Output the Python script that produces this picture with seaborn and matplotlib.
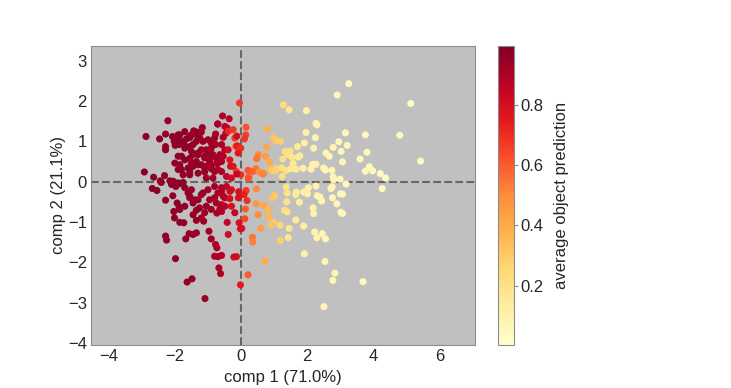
import numpy as np
import pandas as pd
import matplotlib
matplotlib.use("Agg")
import matplotlib.pyplot as plt
import seaborn as sns

# ---------------- data ----------------
red_x = [-2.2, -2.86, -2.45, -2.27, -2.27, -2.27, -2.06, -2.01, -1.92, -1.84, -1.98, -1.86, -1.77, -1.71,
         -1.64, -1.54, -1.49, -1.42, -1.32, -1.16, -1.19, -1.24, -1.34, -1.44, -1.54, -0.55, -0.69, -0.76,
         -0.53, -0.41, -0.45, -1.79, -1.69, -1.54, -1.44, -1.34, -1.29, -1.19, -1.09, -0.99, -0.89, -0.94,
         -0.84, -0.73, -1.04, -1.19, -1.44, -1.59, -1.84, -1.99, -1.89, -1.74, -1.54, -1.29, -1.09, -0.89,
         -0.69, -0.58, -0.63, -0.76, -2.91, -2.63, -2.30, -2.43, -2.14, -2.04,
         -2.67, -2.53, -2.40, -2.09, -1.96, -1.84, -1.74, -2.27, -2.05, -1.92, -1.86, -2.02, -2.0, -1.84,
         -1.72, -1.59, -1.54, -1.44, -1.29, -1.24, -1.34, -1.44, -1.09, -1.14, -0.99, -0.94, -0.79, -0.89,
         -0.63, -0.58, -0.53, -0.69, -1.34, -1.19, -1.12, -2.27, -2.24, -1.66, -1.56, -1.44, -1.34, -0.96,
         -0.89, -0.76, -0.72, -0.79, -0.69, -0.58, -0.66, -0.61, -1.97, -1.62, -1.47, -1.08, -0.58, -0.72,
         -0.58, -1.89, -1.69, -1.54, -1.39, -1.29, -1.14, -0.99, -0.89, -0.79, -1.04, -0.89, -0.74, -0.94,
         -1.09, -1.29, -1.49, -1.69, -1.84, -1.89, -1.49, -1.29, -1.09, -0.89, -0.69, -0.53, -0.48, -0.58,
         -0.79, -0.58, -0.84, -1.04, -1.54, -1.79, -1.89, -1.69, -1.49, -1.54, -1.39, -1.19, -0.79, -0.58,
         -0.74, -0.48, -0.48, -1.04, -1.69, -1.84, -0.70, -0.48]
red_y = [1.51, 1.12, 1.06, 1.18, 0.87, 0.79, 1.12, 1.0, 1.08, 1.16, 0.90, 0.92, 1.0, 0.92,
         1.06, 1.09, 1.16, 1.26, 1.23, 1.34, 1.23, 1.09, 1.0, 0.92, 0.87, 1.63, 1.43, 1.18,
         1.1, 1.33, 1.2, 0.63, 0.54, 0.58, 0.67, 0.50, 0.71, 0.79, 0.63, 0.75, 0.83, 0.54,
         0.67, 0.46, 0.38, 0.42, 0.38, 0.34, 0.42, 0.46, 0.30, 0.17, 0.17, 0.21, 0.24, 0.32,
         0.30, 0.50, 0.67, 0.92, 0.24, 0.11, 0.15, 0.02, 0.02, 0.01,
         -0.17, -0.22, -0.02, -0.07, -0.12, -0.05, -0.02, -0.46, -0.35, -0.53, -0.63, -0.74, -0.90, -1.01,
         -1.02, -0.28, -0.40, -0.53, -0.45, -0.65, -0.71, -0.82, -0.77, -0.28, -0.20, -0.45, -0.40, -0.69,
         -0.68, -0.57, -0.36, -0.28, -0.96, -0.90, -0.98, -1.35, -1.45, -1.42, -1.29, -1.31, -1.27, -1.23,
         -1.42, -1.56, -1.64, -1.85, -1.86, -1.83, -2.14, -2.28, -1.91, -2.49, -2.41, -2.90, -0.74, -0.78,
         -0.24, 1.16, 1.24, 1.12, 1.20, 1.08, 1.0, 1.04, 0.96, 1.08, 0.79, 0.67, 0.59, 0.50,
         0.59, 0.67, 0.75, 0.83, 0.96, 0.63, 0.46, 0.42, 0.34, 0.38, 0.46, 0.63, 0.79, 0.92,
         0.25, 0.25, 0.09, 0.09, 0.25, 0.30, -0.03, -0.15, -0.20, -0.36, -0.45, -0.32, -0.12, -0.15,
         -0.53, -0.40, -0.61, -0.61, -0.61, -0.69, 1.43, 1.37]
red_pred = [0.96, 0.97, 0.97, 0.96, 0.96, 0.96, 0.96, 0.96, 0.96, 0.96, 0.96, 0.96, 0.96, 0.96,
            0.95, 0.95, 0.95, 0.95, 0.95, 0.94, 0.94, 0.95, 0.95, 0.95, 0.95, 0.90, 0.91, 0.92,
            0.90, 0.86, 0.88, 0.96, 0.96, 0.95, 0.95, 0.95, 0.95, 0.94, 0.94, 0.93, 0.92, 0.93,
            0.92, 0.91, 0.94, 0.94, 0.95, 0.95, 0.96, 0.96, 0.96, 0.96, 0.95, 0.95, 0.94, 0.92,
            0.91, 0.90, 0.90, 0.92, 0.97, 0.97, 0.96, 0.96, 0.96, 0.96,
            0.97, 0.97, 0.96, 0.96, 0.96, 0.96, 0.96, 0.96, 0.96, 0.96, 0.96, 0.96, 0.96, 0.96,
            0.95, 0.95, 0.95, 0.95, 0.95, 0.95, 0.95, 0.95, 0.94, 0.94, 0.93, 0.93, 0.92, 0.92,
            0.91, 0.90, 0.90, 0.91, 0.95, 0.94, 0.94, 0.96, 0.96, 0.95, 0.95, 0.95, 0.95, 0.93,
            0.92, 0.91, 0.91, 0.91, 0.90, 0.89, 0.90, 0.90, 0.96, 0.95, 0.95, 0.94, 0.89, 0.91,
            0.90, 0.96, 0.96, 0.95, 0.95, 0.95, 0.94, 0.93, 0.93, 0.92, 0.94, 0.93, 0.92, 0.93,
            0.94, 0.95, 0.95, 0.96, 0.96, 0.96, 0.95, 0.95, 0.94, 0.93, 0.91, 0.89, 0.88, 0.90,
            0.92, 0.90, 0.93, 0.94, 0.95, 0.96, 0.96, 0.96, 0.95, 0.95, 0.95, 0.94, 0.92, 0.90,
            0.91, 0.88, 0.88, 0.94, 0.96, 0.96, 0.92, 0.88]

mid_x = [-0.35, -0.38, -0.23, -0.18, -0.15, -0.38, -0.33, -0.13, -0.43, -0.31, -0.04, 0.16, 0.15,
         0.11, -0.12, -0.11, 0.0, -0.08, 0.53, 0.48, 0.75, 0.30, 0.46, 0.55, 0.69, 0.24, 0.0,
         -0.12, 0.23, 0.22, 0.36, 0.80, 0.78, 0.86, 0.67, 0.47, 0.16, -0.06, 0.10, -0.07, 0.19,
         0.47, 0.69, 0.14, 0.52, 0.12, -0.05, 0.03, -0.18, 0.60, 0.35, 0.36, -0.13, -0.21, 0.73,
         0.22, -0.01, -0.41, -0.38, -0.28, -0.33, -0.28, -0.43, -0.28, -0.33, -0.23, 0.83, 0.84,
         0.99, 0.92, 0.99, 1.08, 1.20, 0.88, 1.02, 0.96, -0.01]
mid_y = [1.56, 1.25, 1.29, 1.08, 0.87, 0.79, 0.54, 0.25, 0.13, 0.38, 1.95, 1.35, 1.16,
         1.06, 1.13, 0.89, 0.83, 0.71, 0.67, 0.57, 0.63, 0.26, 0.32, 0.24, 0.20, 0.11, 0.17,
         0.19, 0.07, 0.28, 0.25, 1.31, 0.86, 0.49, 0.19, -0.18, -0.22, -0.25, -0.32, -0.40, -0.47,
         -0.55, -0.59, -0.68, -0.82, -0.92, -1.02, -1.16, -0.77, -1.16, -1.38, -1.50, -1.86, -1.87, -1.97,
         -2.31, -2.56, -1.01, -1.31, -0.61, -0.42, -0.20, -0.12, 0.09, -0.24, 0.38, -0.69, -0.87,
         -1.01, -1.07, 1.08, 1.01, 1.00, 0.30, -0.35, -0.40, -1.17]
mid_pred = [0.88, 0.72, 0.68, 0.66, 0.62, 0.82, 0.78, 0.66, 0.86, 0.80, 0.68, 0.62, 0.66,
            0.68, 0.82, 0.76, 0.70, 0.76, 0.50, 0.55, 0.45, 0.60, 0.55, 0.50, 0.52, 0.60, 0.70,
            0.84, 0.62, 0.62, 0.58, 0.38, 0.42, 0.40, 0.52, 0.50, 0.68, 0.80, 0.74, 0.80, 0.70,
            0.47, 0.42, 0.60, 0.50, 0.64, 0.80, 0.78, 0.85, 0.45, 0.55, 0.52, 0.80, 0.82, 0.40,
            0.60, 0.75, 0.85, 0.82, 0.80, 0.80, 0.78, 0.86, 0.82, 0.82, 0.78, 0.36, 0.35,
            0.30, 0.32, 0.32, 0.30, 0.28, 0.35, 0.30, 0.32, 0.80]

yel_x = [3.26, 2.91, 5.13, 1.29, 1.46, 1.98, 2.27, 2.30, 1.97, 3.16, 3.76, 4.80, 2.25, 2.96, 1.92,
         3.21, 1.71, 2.20, 2.79, 3.03, 1.34, 1.49, 2.57, 2.67, 3.81, 1.42, 1.54, 1.27, 1.73, 1.78,
         3.60, 5.43, 3.07, 2.17, 2.27, 3.88, 3.98, 3.76, 2.50, 2.55, 2.75, 4.21, 4.37,
         0.96, 1.05, 1.08, 1.24, 1.37, 1.52, 1.58, 1.67, 1.88, 1.25, 2.12, 2.79, 2.81, 3.00, 3.18, 4.27,
         1.37, 1.40, 1.66, 1.68, 1.96, 2.04, 2.27, 2.01, 1.90, 2.72, 2.76, 3.07, 2.31, 2.44, 2.39,
         2.77, 2.90, 3.07, 3.02, 2.18, 2.20, 3.01, 1.39, 1.77, 1.19, 1.32, 1.40, 1.66, 1.90, 1.46,
         1.43, 1.19, 2.23, 2.30, 2.46, 2.56, 1.92, 2.54, 2.84, 2.78, 3.69, 2.51]
yel_y = [2.43, 2.15, 1.94, 1.91, 1.78, 1.76, 1.45, 1.41, 1.22, 1.21, 1.16, 1.15, 1.09, 0.99, 0.96,
         0.90, 0.87, 0.83, 0.85, 0.75, 0.75, 0.76, 0.71, 0.63, 0.73, 0.67, 0.61, 0.56, 0.61, 0.64,
         0.56, 0.51, 0.49, 0.43, 0.43, 0.37, 0.27, 0.26, 0.34, 0.29, 0.28, 0.20, 0.09,
         0.28, 0.27, 0.33, 0.34, 0.28, 0.32, 0.45, 0.31, 0.33, 0.13, 0.31, 0.12, 0.05, 0.06, -0.06, -0.17,
         -0.13, -0.28, -0.32, -0.26, -0.24, -0.15, -0.11, -0.30, -0.26, -0.17, -0.13, -0.31, -0.35, -0.48, -0.38,
         -0.40, -0.55, -0.79, -0.76, -0.65, -0.79, -0.30, -0.50, -0.51, -1.08, -0.71, -0.75, -0.95, -1.10, -1.16,
         -1.39, -1.46, -1.25, -1.39, -1.29, -1.42, -1.79, -1.98, -2.27, -2.45, -2.48, -3.10]
yel_pred = [0.05, 0.06, 0.04, 0.22, 0.18, 0.10, 0.10, 0.10, 0.12, 0.06, 0.05, 0.05, 0.10, 0.07, 0.12,
            0.06, 0.15, 0.10, 0.08, 0.07, 0.22, 0.20, 0.08, 0.08, 0.05, 0.20, 0.18, 0.22, 0.15, 0.14,
            0.05, 0.04, 0.06, 0.10, 0.10, 0.05, 0.05, 0.05, 0.08, 0.08, 0.07, 0.04, 0.04,
            0.30, 0.28, 0.27, 0.22, 0.20, 0.16, 0.16, 0.14, 0.12, 0.22, 0.10, 0.07, 0.07, 0.06, 0.06, 0.04,
            0.20, 0.20, 0.15, 0.15, 0.12, 0.10, 0.10, 0.10, 0.12, 0.07, 0.07, 0.06, 0.09, 0.08, 0.08,
            0.07, 0.07, 0.06, 0.06, 0.10, 0.10, 0.06, 0.20, 0.14, 0.25, 0.22, 0.20, 0.15, 0.12, 0.18,
            0.18, 0.28, 0.09, 0.09, 0.08, 0.08, 0.10, 0.08, 0.07, 0.07, 0.05, 0.07]

x_ticks = [-4, -2, 0, 2, 4, 6]
y_ticks = [-4, -3, -2, -1, 0, 1, 2, 3]
cbar_ticks = [0.2, 0.4, 0.6, 0.8]
x_label = "comp 1 (71.0%)"
y_label = "comp 2 (21.1%)"
cbar_label = "average object prediction"

df = pd.DataFrame({
    "x": red_x + mid_x + yel_x,
    "y": red_y + mid_y + yel_y,
    "pred": red_pred + mid_pred + yel_pred,
})

# ---------------- style ----------------
sns.set_style("white", {"axes.facecolor": "#c0c0c0", "axes.edgecolor": "#8c8c8c"})
plt.rcParams["font.family"] = ["Liberation Sans", "DejaVu Sans"]
plt.rcParams["text.color"] = "#262626"
plt.rcParams["axes.labelcolor"] = "#262626"
plt.rcParams["xtick.color"] = "#262626"
plt.rcParams["ytick.color"] = "#262626"

vmin, vmax = 0.003, 0.997
fig = plt.figure(figsize=(7.31, 3.88), dpi=100)
ax = fig.add_axes([0.1245, 0.111, 0.5253, 0.771])
cax = fig.add_axes([0.681, 0.111, 0.022, 0.771])

ax.axhline(0, color="#666666", ls="--", lw=1.5, zorder=1)
ax.axvline(0, color="#666666", ls="--", lw=1.5, zorder=1)
sns.scatterplot(data=df, x="x", y="y", hue="pred", palette="YlOrRd",
                hue_norm=(vmin, vmax), s=26, linewidth=0, alpha=1.0,
                legend=False, ax=ax, zorder=2)

ax.set_xlim(-4.52, 7.07)
ax.set_ylim(-4.05, 3.37)
ax.set_xticks(x_ticks)
ax.set_yticks(y_ticks)
ax.tick_params(labelsize=12, length=0, pad=3)
ax.set_xlabel(x_label, fontsize=12, labelpad=4)
ax.set_ylabel(y_label, fontsize=12, labelpad=1)

sm = plt.cm.ScalarMappable(cmap="YlOrRd", norm=plt.Normalize(vmin, vmax))
cb = fig.colorbar(sm, cax=cax)
cb.set_ticks(cbar_ticks)
cb.ax.tick_params(labelsize=12, length=3, width=0.8, color="#8c8c8c", pad=2)
cb.outline.set_edgecolor("#8c8c8c")
cb.set_label(cbar_label, fontsize=12, labelpad=7)

fig.savefig("out.png", dpi=100)
